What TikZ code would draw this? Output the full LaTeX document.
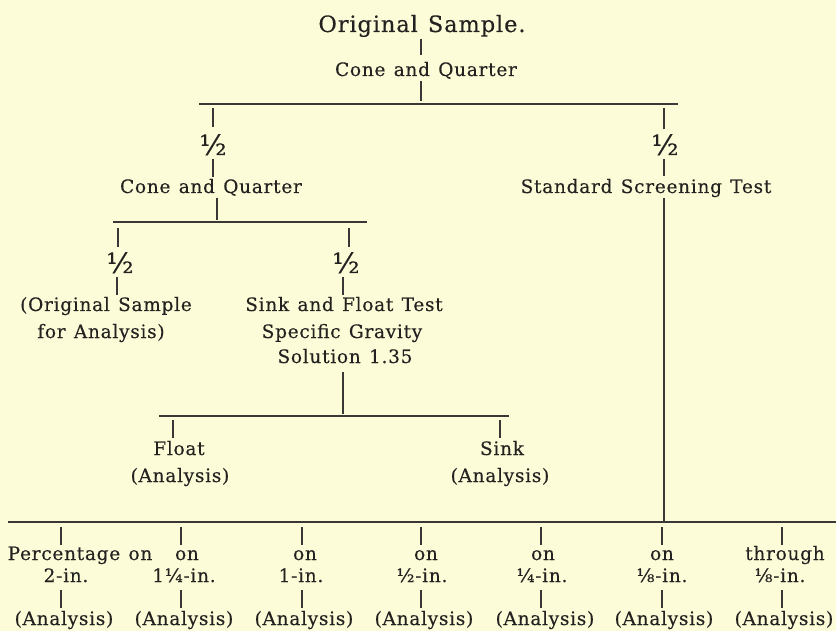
\documentclass[tikz,border=0pt]{standalone}
\usepackage{fontspec}
\usepackage{graphicx}
\setmainfont{DejaVu Serif}[LetterSpace=4,WordSpace=1.25,FakeBold=0.3]
\definecolor{paper}{RGB}{253,252,216}
\definecolor{ink}{RGB}{36,34,32}
\tikzset{
  lbl/.style={anchor=base,inner sep=0pt,text=ink,font=\fontsize{18.5}{22}\selectfont},
  big/.style={anchor=base,inner sep=0pt,text=ink,font=\fontsize{22.5}{27}\selectfont},
  half/.style={anchor=base,inner sep=0pt,text=ink,font=\fontsize{28}{30}\selectfont},
  ln/.style={draw=ink!90,line width=1.2pt}
}
\begin{document}
\begin{tikzpicture}[x=1pt,y=-1pt]
\fill[paper] (0,0) rectangle (836,631);
\useasboundingbox (0,0) rectangle (836,631);
% top
\node[big] (orig) at (422,32) {Original Sample.};
\node[lbl] (cq1) at (426,76) {Cone and Quarter};
\coordinate (a1) at (421,39); \coordinate (a2) at (421,55);
\coordinate (a3) at (421,81); \coordinate (a4) at (421,101);
\draw[ln] (a1) -- (a2);
\draw[ln] (a3) -- (a4);
\coordinate (b1L) at (199,104); \coordinate (b1R) at (678,104);
\draw[ln] (b1L) -- (b1R);
% left branch
\coordinate (l1) at (213,108); \coordinate (l2) at (213,127);
\draw[ln] (l1) -- (l2);
\node[half] (hl) at (213,155) {½};
\coordinate (l3) at (213,159); \coordinate (l4) at (213,177);
\draw[ln] (l3) -- (l4);
\node[lbl] (cq2) at (211,193) {Cone and Quarter};
\coordinate (l5) at (217,198); \coordinate (l6) at (217,220);
\draw[ln] (l5) -- (l6);
\coordinate (b2L) at (113,222); \coordinate (b2R) at (367,222);
\draw[ln] (b2L) -- (b2R);
% original sample for analysis
\coordinate (m1) at (118,228); \coordinate (m2) at (118,247);
\draw[ln] (m1) -- (m2);
\node[half] (hm) at (120,273) {½};
\coordinate (m3) at (117,277); \coordinate (m4) at (117,295);
\draw[ln] (m3) -- (m4);
\node[lbl] (os1) at (106,311) {(Original Sample};
\node[lbl] (os2) at (101,338) {for Analysis)};
% sink and float
\coordinate (s1) at (349,228); \coordinate (s2) at (349,247);
\draw[ln] (s1) -- (s2);
\node[half] (hs) at (346,273) {½};
\coordinate (s3) at (343,277); \coordinate (s4) at (343,295);
\draw[ln] (s3) -- (s4);
\node[lbl] (sf1) at (344,311) {Sink and Float Test};
\node[lbl] (sf2) at (342,338) {Specific Gravity};
\node[lbl] (sf3) at (345,363) {Solution 1.35};
\coordinate (s5) at (343,372); \coordinate (s6) at (343,414);
\draw[ln] (s5) -- (s6);
\coordinate (b3L) at (159,416); \coordinate (b3R) at (509,416);
\draw[ln] (b3L) -- (b3R);
\coordinate (f1) at (173,420); \coordinate (f2) at (173,438);
\draw[ln] (f1) -- (f2);
\node[lbl] (fl) at (179,455) {Float};
\node[lbl] (fla) at (180,482) {(Analysis)};
\coordinate (k1) at (500,420); \coordinate (k2) at (500,438);
\draw[ln] (k1) -- (k2);
\node[lbl] (sk) at (502,455) {Sink};
\node[lbl] (ska) at (500,482) {(Analysis)};
% right branch
\coordinate (r1) at (664,108); \coordinate (r2) at (664,129);
\draw[ln] (r1) -- (r2);
\node[half] (hr) at (665,155) {½};
\coordinate (r3) at (664,159); \coordinate (r4) at (664,176);
\draw[ln] (r3) -- (r4);
\node[lbl] (sst) at (646,193) {Standard Screening Test};
\coordinate (r5) at (664,198); \coordinate (r6) at (664,522);
\draw[ln] (r5) -- (r6);
\coordinate (b4L) at (8,522); \coordinate (b4R) at (836,522);
\draw[ln] (b4L) -- (b4R);
% bottom columns
\foreach \i/\x in {1/61,2/181,3/302,4/421,5/541,6/662,7/782}{
  \coordinate (t\i a) at (\x,527); \coordinate (t\i b) at (\x,545);
  \coordinate (t\i c) at (\x,590); \coordinate (t\i d) at (\x,608);
  \draw[ln] (t\i a) -- (t\i b);
  \draw[ln] (t\i c) -- (t\i d);
}
\node[lbl] (p1) at (80,560) {Percentage on};
\node[lbl] (p2) at (187,560) {on};
\node[lbl] (p3) at (305,560) {on};
\node[lbl] (p4) at (426,560) {on};
\node[lbl] (p5) at (543,560) {on};
\node[lbl] (p6) at (662,560) {on};
\node[lbl] (p7) at (785,560) {through};
\node[lbl] (q1) at (66,582) {2-in.};
\node[lbl] (q2) at (184,582) {1¼-in.};
\node[lbl] (q3) at (301,582) {1-in.};
\node[lbl] (q4) at (422,582) {½-in.};
\node[lbl] (q5) at (542,582) {¼-in.};
\node[lbl] (q6) at (662,582) {⅛-in.};
\node[lbl] (q7) at (780,582) {⅛-in.};
\foreach \i/\x in {1/64,2/184,3/304,4/424,5/545,6/664,7/784}{
  \node[lbl] (an\i) at (\x,625) {(Analysis)};
}
\end{tikzpicture}
\end{document}
